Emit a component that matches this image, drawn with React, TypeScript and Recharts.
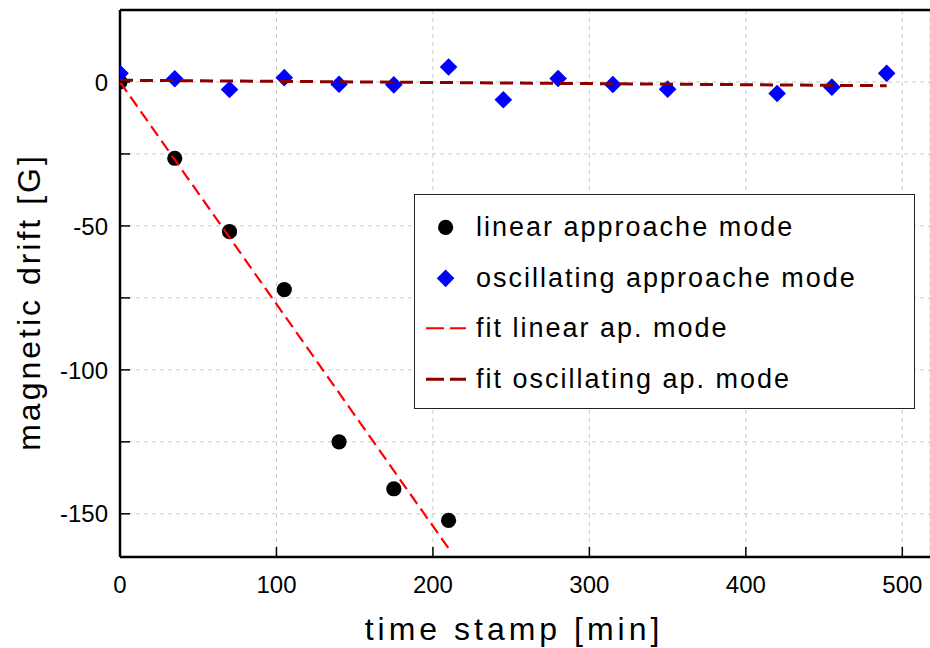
import React from 'react';
import { ComposedChart, Scatter, XAxis, YAxis, CartesianGrid, ReferenceLine, Legend, Label } from 'recharts';

// ---- data ----
const linearTime = [0, 35, 70, 105, 140, 175, 210];
const linearDrift = [0, -26.5, -52.0, -72.1, -125.0, -141.3, -152.3];
const oscTime = [0, 35, 70, 105, 140, 175, 210, 245, 280, 315, 350, 420, 455, 490];
const oscDrift = [3.0, 1.1, -2.6, 1.5, -0.8, -1.0, 5.2, -6.2, 1.2, -0.9, -2.5, -4.0, -1.8, 3.0];
const linearFitTime = [0, 210];
const linearFitDrift = [0, -162];
const oscFitTime = [0, 490];
const oscFitDrift = [0.6, -1.3];
const xTicks = [0, 100, 200, 300, 400, 500];
const yTicks = [-150, -125, -100, -75, -50, -25, 0, 25];
const yLabeledTicks = [-150, -100, -50, 0];
const seriesNames = [
  'linear approache mode',
  'oscillating approache mode',
  'fit linear ap. mode',
  'fit oscillating ap. mode',
];
const xTitle = 'time stamp [min]';
const yTitle = 'magnetic drift [G]';

const toPts = (xs: number[], ys: number[]) => xs.map((x, i) => ({ x, y: ys[i] }));
const linearPts = toPts(linearTime, linearDrift);
const oscPts = toPts(oscTime, oscDrift);
const linearFitPts = toPts(linearFitTime, linearFitDrift);
const oscFitPts = toPts(oscFitTime, oscFitDrift);

const FONT = '"Liberation Sans", Arial, Helvetica, sans-serif';
const RED = '#ff0000';
const DARKRED = '#8b0000';
const BLUE = '#0000ff';

const CircleShape = (p: any) => <circle cx={p.cx} cy={p.cy} r={7.6} fill="#000" />;
const DiamondShape = (p: any) => {
  const s = 8.8;
  return (
    <polygon
      points={`${p.cx},${p.cy - s} ${p.cx + s},${p.cy} ${p.cx},${p.cy + s} ${p.cx - s},${p.cy}`}
      fill={BLUE}
    />
  );
};
const NoShape = () => <g />;

const XTick = (p: any) => {
  const { x, y, payload } = p;
  return (
    <g>
      <line x1={x} x2={x} y1={y} y2={y - 10} stroke="#000" strokeWidth={1.5} />
      <text x={x} y={y + 36} textAnchor="middle" fontSize={24} fontFamily={FONT} fill="#000">
        {payload.value}
      </text>
    </g>
  );
};

const YTick = (p: any) => {
  const { x, y, payload } = p;
  return (
    <g>
      <line x1={x} x2={x + 10} y1={y} y2={y} stroke="#000" strokeWidth={1.5} />
      {yLabeledTicks.includes(payload.value) && (
        <text x={x - 12} y={y} dy="0.36em" textAnchor="end" fontSize={24} fontFamily={FONT} fill="#000">
          {payload.value}
        </text>
      )}
    </g>
  );
};

const legendStyle: Record<string, { kind: string; color: string; width?: number }> = {
  [seriesNames[0]]: { kind: 'circle', color: '#000' },
  [seriesNames[1]]: { kind: 'diamond', color: BLUE },
  [seriesNames[2]]: { kind: 'line', color: RED, width: 2 },
  [seriesNames[3]]: { kind: 'line', color: DARKRED, width: 3 },
};

const LegendContent = (props: any) => {
  const items = (props.payload || []).filter((e: any) => legendStyle[e.value]);
  const ordered = seriesNames
    .map((n) => items.find((e: any) => e.value === n))
    .filter(Boolean);
  return (
    <div
      style={{
        width: 501,
        height: 215,
        boxSizing: 'border-box',
        border: '1.5px solid #222',
        background: '#fff',
        paddingTop: 7,
        fontFamily: FONT,
      }}
    >
      {ordered.map((e: any) => {
        const st = legendStyle[e.value];
        return (
          <div key={e.value} style={{ position: 'relative', height: 50.7 }}>
            <svg width={60} height={50.7} style={{ position: 'absolute', left: 0, top: 0 }}>
              {st.kind === 'circle' && <circle cx={30.6} cy={25.35} r={7.6} fill={st.color} />}
              {st.kind === 'diamond' && (
                <polygon
                  points={`30.6,${25.35 - 8.8} ${30.6 + 8.8},25.35 30.6,${25.35 + 8.8} ${30.6 - 8.8},25.35`}
                  fill={st.color}
                />
              )}
              {st.kind === 'line' && (
                <line x1={11} x2={51} y1={25.35} y2={25.35} stroke={st.color} strokeWidth={st.width} strokeDasharray="18 6" />
              )}
            </svg>
            <div
              style={{
                position: 'absolute',
                left: 61,
                top: 0,
                height: 50.7,
                lineHeight: '50.7px',
                fontSize: 27,
                letterSpacing: 2,
                whiteSpace: 'nowrap',
                color: '#000',
              }}
            >
              {e.value}
            </div>
          </div>
        );
      })}
    </div>
  );
};

export default function App() {
  return (
    <div style={{ position: 'absolute', left: 0, top: 0, width: 930, height: 648, background: '#fff' }}>
      <ComposedChart width={930} height={648} margin={{ top: 10, right: 0, bottom: 0, left: 0 }}>
        <CartesianGrid stroke="#c8c8c8" strokeDasharray="4 4" strokeWidth={1} />
        <XAxis
          type="number"
          dataKey="x"
          domain={[0, 517.7]}
          ticks={xTicks}
          interval={0}
          allowDataOverflow
          height={91}
          tickSize={0}
          tickMargin={0}
          tick={<XTick />}
          tickLine={false}
          axisLine={{ stroke: '#000', strokeWidth: 2.5 }}
        >
          <Label
            content={() => (
              <text x={514} y={640} textAnchor="middle" fontSize={32} letterSpacing={4} fontFamily={FONT} fill="#000">
                {xTitle}
              </text>
            )}
          />
        </XAxis>
        <YAxis
          type="number"
          dataKey="y"
          domain={[-165, 25]}
          ticks={yTicks}
          interval={0}
          allowDataOverflow
          width={120}
          tickSize={0}
          tickMargin={0}
          tick={<YTick />}
          tickLine={false}
          axisLine={{ stroke: '#000', strokeWidth: 2.5 }}
        >
          <Label
            content={() => (
              <text
                x={28}
                y={302}
                transform="rotate(-90, 28, 302)"
                textAnchor="middle"
                dy="0.36em"
                fontSize={32}
                letterSpacing={3}
                fontFamily={FONT}
                fill="#000"
              >
                {yTitle}
              </text>
            )}
          />
        </YAxis>
        <ReferenceLine y={25} stroke="#000" strokeWidth={2.5} />
        <Scatter
          name={seriesNames[0]}
          data={linearPts}
          shape={CircleShape}
          fill="#000"
          legendType="circle"
          isAnimationActive={false}
        />
        <Scatter
          name={seriesNames[1]}
          data={oscPts}
          shape={DiamondShape}
          fill={BLUE}
          legendType="diamond"
          isAnimationActive={false}
        />
        <Scatter
          name={seriesNames[2]}
          data={linearFitPts}
          shape={NoShape}
          fill={RED}
          line={{ stroke: RED, strokeWidth: 2.2, strokeDasharray: '12 6' }}
          legendType="line"
          isAnimationActive={false}
        />
        <Scatter
          name={seriesNames[3]}
          data={oscFitPts}
          shape={NoShape}
          fill={DARKRED}
          line={{ stroke: DARKRED, strokeWidth: 3, strokeDasharray: '13 7' }}
          legendType="line"
          isAnimationActive={false}
        />
        <Legend
          layout="horizontal"
          verticalAlign="middle"
          align="center"
          content={<LegendContent />}
          wrapperStyle={{ position: 'absolute', left: 414, top: 194, width: 501, height: 215 }}
        />
      </ComposedChart>
    </div>
  );
}
